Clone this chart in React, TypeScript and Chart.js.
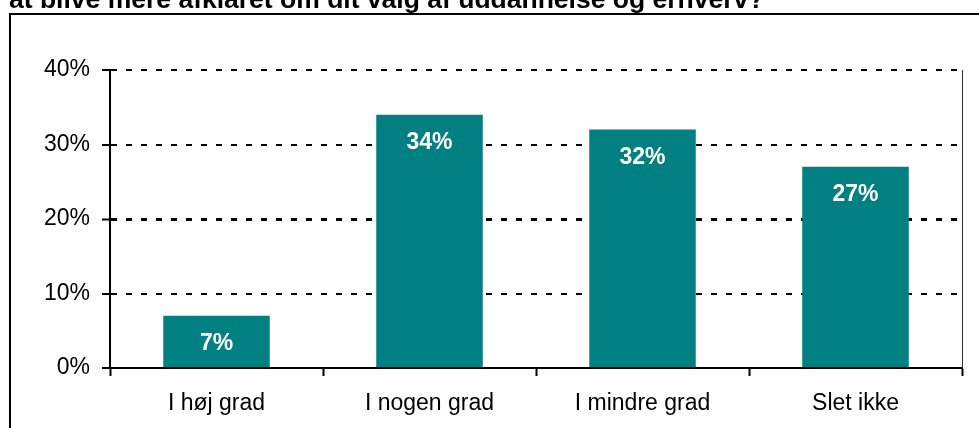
import React, { useEffect, useRef } from "react";
import { Chart, registerables } from "chart.js";

Chart.register(...registerables);

const titleText = "at blive mere afklaret om dit valg af uddannelse og erhverv?";
const categories = ["I høj grad", "I nogen grad", "I mindre grad", "Slet ikke"];
const values = [7, 34, 32, 27];
const yMax = 40;
const yStep = 10;
const barColor = "#008080";
const FONT = "Arial, 'Liberation Sans', sans-serif";

export default function App() {
  const ref = useRef<HTMLCanvasElement | null>(null);

  useEffect(() => {
    if (!ref.current) return;

    const framePlugin = {
      id: "framePlugin",
      beforeDraw(chart: any) {
        const ctx = chart.ctx;
        ctx.save();
        ctx.fillStyle = "#ffffff";
        ctx.fillRect(0, 0, chart.width, chart.height);
        ctx.strokeStyle = "#000000";
        ctx.lineWidth = 2;
        ctx.strokeRect(10, 14, 1400, 800);
        ctx.font = `bold 26.5px ${FONT}`;
        ctx.fillStyle = "#000000";
        ctx.textAlign = "left";
        ctx.textBaseline = "alphabetic";
        ctx.fillText(titleText, 9, 7.5);
        ctx.restore();
      },
      afterDatasetsDraw(chart: any) {
        const ctx = chart.ctx;
        const area = chart.chartArea;
        ctx.save();
        ctx.strokeStyle = "#333333";
        ctx.lineWidth = 1;
        ctx.beginPath();
        ctx.moveTo(area.right + 0.5, area.top);
        ctx.lineTo(area.right + 0.5, area.bottom);
        ctx.stroke();

        const meta = chart.getDatasetMeta(0);
        ctx.font = `bold 23px ${FONT}`;
        ctx.fillStyle = "#ffffff";
        ctx.textAlign = "center";
        ctx.textBaseline = "middle";
        meta.data.forEach((bar: any, i: number) => {
          ctx.fillText(values[i] + "%", bar.x, bar.y + 28);
        });
        ctx.restore();
      },
    };

    const chart = new Chart(ref.current, {
      type: "bar",
      data: {
        labels: categories,
        datasets: [
          {
            data: values,
            backgroundColor: barColor,
            borderWidth: 0,
            barPercentage: 0.5,
            categoryPercentage: 1.0,
          },
        ],
      },
      options: {
        responsive: false,
        animation: false,
        devicePixelRatio: 1,
        layout: { padding: { left: 0, top: 70, right: 17, bottom: 0 } },
        plugins: {
          legend: { display: false },
          tooltip: { enabled: false },
          title: { display: false },
        },
        scales: {
          x: {
            grid: {
              display: true,
              drawOnChartArea: false,
              drawTicks: true,
              tickLength: 8,
              offset: true,
              color: "#000000",
              tickColor: "#000000",
              tickWidth: 2,
            },
            border: { display: true, color: "#000000", width: 2 },
            ticks: {
              color: "#000000",
              font: { family: FONT, size: 23 },
              padding: 14,
              maxRotation: 0,
            },
            afterFit: (s: any) => {
              s.height = 60;
            },
          },
          y: {
            min: 0,
            max: yMax,
            ticks: {
              stepSize: yStep,
              callback: (v: any) => v + "%",
              color: "#000000",
              font: { family: FONT, size: 23 },
              padding: 12,
            },
            grid: {
              color: "#000000",
              lineWidth: (c: any) => (c.tick && c.tick.value === 20 ? 3 : 2),
              drawTicks: true,
              tickLength: 8,
              tickColor: "#000000",
              tickWidth: 2,
              tickBorderDash: [],
            },
            border: { display: true, color: "#000000", width: 2, dash: [6, 9] },
            afterFit: (s: any) => {
              s.width = 110;
            },
          },
        },
      },
      plugins: [framePlugin],
    });

    return () => chart.destroy();
  }, []);

  return (
    <div style={{ position: "fixed", left: 0, top: 0, width: 979, height: 428, overflow: "hidden", background: "#fff" }}>
      <canvas ref={ref} width={979} height={428} style={{ display: "block", width: 979, height: 428 }} />
    </div>
  );
}
